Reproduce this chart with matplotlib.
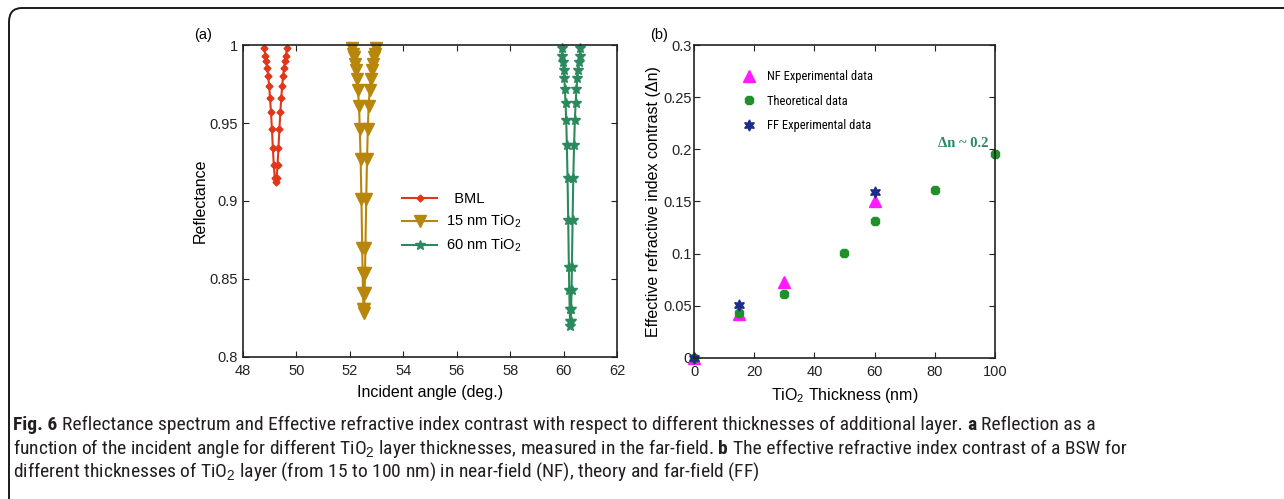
import matplotlib
matplotlib.use("Agg")
import matplotlib.pyplot as plt
from matplotlib.path import Path
from matplotlib.patches import PathPatch
from matplotlib.transforms import IdentityTransform

# ── Panel (a): reflectance dips ────────────────────────────────────
bml_x = [48.80, 48.835, 48.87, 48.905, 48.94, 48.975, 49.01, 49.045, 49.08,
         49.115, 49.15, 49.185, 49.22, 49.255, 49.29, 49.325, 49.36, 49.395,
         49.43, 49.465, 49.50, 49.535, 49.57, 49.605, 49.64]
bml_y = [0.998, 0.993, 0.990, 0.985, 0.980, 0.974, 0.966, 0.957, 0.946,
         0.934, 0.923, 0.915, 0.912, 0.915, 0.923, 0.934, 0.946, 0.957,
         0.966, 0.974, 0.980, 0.985, 0.990, 0.993, 0.998]

ti15_x = [52.06, 52.10, 52.14, 52.18, 52.22, 52.26, 52.30, 52.34, 52.37,
          52.40, 52.43, 52.46, 52.475, 52.49, 52.505, 52.52, 52.535, 52.55,
          52.565, 52.58, 52.61, 52.64, 52.67, 52.70, 52.74, 52.78, 52.82,
          52.86, 52.90, 52.94, 52.98]
ti15_y = [0.998, 0.994, 0.992, 0.988, 0.984, 0.978, 0.971, 0.961, 0.946,
          0.927, 0.901, 0.870, 0.854, 0.841, 0.831, 0.828, 0.831, 0.841,
          0.854, 0.870, 0.901, 0.927, 0.946, 0.961, 0.971, 0.978, 0.984,
          0.988, 0.992, 0.994, 0.998]

ti60_x = [59.92, 59.945, 59.97, 59.995, 60.02, 60.045, 60.07, 60.095, 60.12,
          60.145, 60.17, 60.195, 60.21, 60.225, 60.24, 60.25, 60.265, 60.28,
          60.295, 60.31, 60.335, 60.36, 60.39, 60.42, 60.45, 60.48, 60.51,
          60.54, 60.57, 60.60, 60.63]
ti60_y = [0.998, 0.993, 0.989, 0.984, 0.979, 0.972, 0.963, 0.952, 0.936,
          0.915, 0.888, 0.858, 0.843, 0.831, 0.823, 0.820, 0.823, 0.831,
          0.843, 0.858, 0.888, 0.915, 0.936, 0.952, 0.963, 0.972, 0.979,
          0.984, 0.989, 0.993, 0.998]

# ── Panel (b): index contrast vs TiO2 thickness ────────────────────
nf_x = [0, 15, 30, 60]
nf_y = [0.0, 0.042, 0.073, 0.150]
th_x = [0, 15, 30, 50, 60, 80, 100]
th_y = [0.0, 0.043, 0.061, 0.101, 0.131, 0.161, 0.196]
ff_x = [0, 15, 60]
ff_y = [0.0, 0.051, 0.159]

RED = "#e2361a"
GOLD = "#b8860b"
GREEN = "#2a8a5e"
TH_GREEN = "#22902a"
MAGENTA = "#ff1aff"
NAVY = "#1c2c8c"
SANS = "Liberation Sans"
NARROW = ["Roboto Condensed", "Liberation Sans Narrow", "Liberation Sans"]

plt.rcParams.update({
    "font.family": SANS,
    "mathtext.fontset": "custom",
    "mathtext.rm": SANS,
    "mathtext.it": SANS,
    "xtick.direction": "in",
    "ytick.direction": "in",
})

fig = plt.figure(figsize=(12.84, 4.99), dpi=100, facecolor="white")


def style_ax(ax, ypad):
    for s in ax.spines.values():
        s.set_linewidth(1.2)
        s.set_color("#222222")
    ax.tick_params(top=True, right=True, length=4, width=0.8,
                   labelsize=10.5, colors="#222222")
    ax.tick_params(axis="x", pad=5)
    ax.tick_params(axis="y", pad=ypad)


# ── (a) ─────────────────────────────────────────────────────────────
ax1 = fig.add_axes([0.1893, 0.2846, 0.2913, 0.6252])
style_ax(ax1, 4)
ax1.plot(bml_x, bml_y, color=RED, marker="D", markersize=3.5, lw=1.5,
         label="  BML", clip_on=False)
ax1.plot(ti15_x, ti15_y, color=GOLD, marker="v", markersize=8, lw=1.5,
         label="15 nm TiO$_2$", clip_on=False)
ax1.plot(ti60_x, ti60_y, color=GREEN, marker="*", markersize=7, lw=1.5,
         label="60 nm TiO$_2$", clip_on=False)
ax1.set_xlim(48, 62)
ax1.set_ylim(0.8, 1.0)
ax1.set_xticks(range(48, 63, 2))
ax1.set_yticks([0.8, 0.85, 0.9, 0.95, 1.0])
ax1.set_yticklabels(["0.8", "0.85", "0.9", "0.95", "1"])
ax1.set_xlabel("Incident angle (deg.)", fontsize=11.5, labelpad=5)
ax1.set_ylabel("Reflectance", fontsize=11.5, labelpad=1)
ax1.legend(loc="upper left", bbox_to_anchor=(0.39, 0.57), frameon=False,
           fontsize=10.5, handlelength=2.4, labelspacing=0.45,
           handletextpad=0.6)

# ── (b) ─────────────────────────────────────────────────────────────
ax2 = fig.add_axes([0.5405, 0.2826, 0.2344, 0.6272])
style_ax(ax2, 1.5)
h_nf, = ax2.plot(nf_x, nf_y, ls="none", marker="^", markersize=8,
                 color=MAGENTA, label="NF Experimental data", clip_on=False)
h_th, = ax2.plot(th_x, th_y, ls="none", marker="8", markersize=6,
                 color=TH_GREEN, label="Theoretical data", clip_on=False)
h_ff, = ax2.plot(ff_x, ff_y, ls="none", marker=(6, 1, 0), markersize=8,
                 color=NAVY, label="FF Experimental data", clip_on=False)
ax2.set_xlim(0, 100)
ax2.set_ylim(0, 0.3)
ax2.set_xticks(range(0, 101, 20))
ax2.set_yticks([0, 0.05, 0.1, 0.15, 0.2, 0.25, 0.3])
ax2.set_yticklabels(["0", "0.05", "0.1", "0.15", "0.2", "0.25", "0.3"])
ax2.set_xlabel("TiO$_2$ Thickness (nm)", fontsize=11.5, labelpad=5)
ax2.set_ylabel("Effective refractive index contrast (\u0394n)",
               fontsize=11.5, labelpad=2)
ax2.legend(handles=[h_nf, h_th, h_ff], loc="upper left",
           bbox_to_anchor=(0.105, 0.955), frameon=False,
           prop={"family": NARROW, "size": 9}, labelspacing=0.92,
           handletextpad=0.4)
ax2.text(98, 0.206, "\u0394n ~ 0.2", ha="right", va="center",
         family="Liberation Serif", fontweight="bold", fontsize=10.5,
         color=GREEN)

fig.text(0.151, 0.930, "(a)", fontsize=10.5, va="center")
fig.text(0.506, 0.930, "(b)", fontsize=10.5, va="center")

# ── caption frame ───────────────────────────────────────────────────
W, H = 1284, 499
pts = [(9, -2), (9, H - 22), (9, H - 8), (22, H - 8), (W + 2, H - 8)]
codes = [Path.MOVETO, Path.LINETO, Path.CURVE3, Path.CURVE3, Path.LINETO]
frame = PathPatch(Path([(x / W, y / H) for x, y in pts], codes),
                  transform=fig.transFigure, fill=False, lw=1.4,
                  edgecolor="#1a1a1a", clip_on=False)
fig.add_artist(frame)

# ── caption text ────────────────────────────────────────────────────
caption = [
    [("Fig. 6", "bold"),
     ("Reflectance spectrum and Effective refractive index contrast with "
      "respect to different thicknesses of additional layer.", "normal"),
     ("a", "bold"), ("Reflection as a", "normal")],
    [("function of the incident angle for different TiO$_2$ layer "
      "thicknesses, measured in the far-field.", "normal"),
     ("b", "bold"),
     ("The effective refractive index contrast of a BSW for", "normal")],
    [("different thicknesses of TiO$_2$ layer (from 15 to 100 nm) in "
      "near-field (NF), theory and far-field (FF)", "normal")],
]
cap_y = [425, 449, 472]
CAP_SIZE = 14
renderer = fig.canvas.get_renderer()


def draw_runs(runs, x0, y, size):
    kw = dict(family=NARROW, fontsize=size, color="#231f20", va="baseline",
              transform=IdentityTransform())
    t1 = fig.text(0, 0, "a a", **kw)
    t2 = fig.text(0, 0, "aa", **kw)
    space = (t1.get_window_extent(renderer).width
             - t2.get_window_extent(renderer).width)
    t1.remove()
    t2.remove()
    x = x0
    for s, weight in runs:
        t = fig.text(x, y, s, fontweight=weight, **kw)
        x += t.get_window_extent(renderer).width + space


for runs, yy in zip(caption, cap_y):
    draw_runs(runs, 13, H - yy - 5, CAP_SIZE)

fig.savefig("out.png", dpi=100, facecolor="white")
